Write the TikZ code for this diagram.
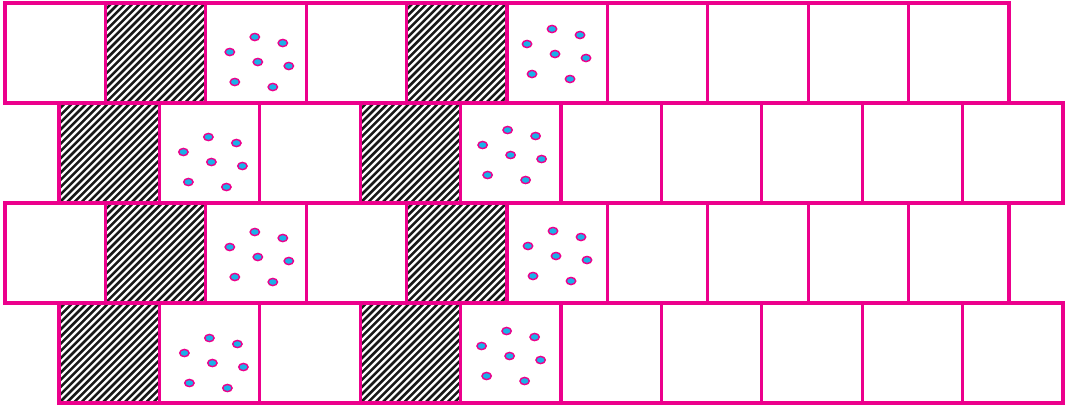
\documentclass[tikz,border=0pt]{standalone}
\usepackage{xcolor}
\usetikzlibrary{positioning, backgrounds}
\definecolor{brickpink}{HTML}{EC008C}
\definecolor{grainblue}{HTML}{1BB0E8}
\tikzset{
    cell/.style={draw=brickpink, line width=0.9pt, minimum width=1.004cm, minimum height=1cm, inner sep=0pt, outer sep=0pt},
    stripe/.style={black!90, line width=0.72pt},
    grain/.style={draw=brickpink, fill=grainblue, line width=0.4pt}
}

\begin{document}
\begin{tikzpicture}
    \useasboundingbox (0,0) rectangle (10.69,-4.09);
    % four rows of ten cells, every second row moved right
    \foreach \r/\x in {1/0.05, 2/0.59, 3/0.05, 4/0.59}{
        \foreach \c in {1,...,10}{
            \node[cell] (c\r-\c) at ({\x+(\c-0.5)*1.004}, {-(\r-0.5)-0.03}) {};
        }
    }
    
    % hatched cells
    \begin{scope}[on background layer]
        \foreach \cellname in {c1-2, c1-5, c2-1, c2-4, c3-2, c3-5, c4-1, c4-4}{
            \begin{scope}[shift={(\cellname.south west)}]
                \clip (0,0) rectangle (1.004,1);
                \foreach \k in {-15,...,15}
                    \draw[stripe] (\k*0.072,0) -- ++(1.1,1.1);
            \end{scope}
        }
    \end{scope}
    
    % dotted cells
    \foreach \cellname/\dx/\dy in {c1-3/0/0, c1-6/-4/-8, c2-2/0/0, c2-5/-2/-7, c3-3/0/-5, c3-6/-3/-6, c4-2/1/1, c4-5/-3/-6}{
        \foreach \px/\py in {49/34, 77/40, 24/49, 52/59, 83/63, 29/79, 67/84}{
            \path[grain] ([shift={({(\px+\dx)/100},{-(\py+\dy)/100})}]\cellname.north west) ellipse[x radius=0.047, y radius=0.036];
        }
    }
\end{tikzpicture}
\end{document}
